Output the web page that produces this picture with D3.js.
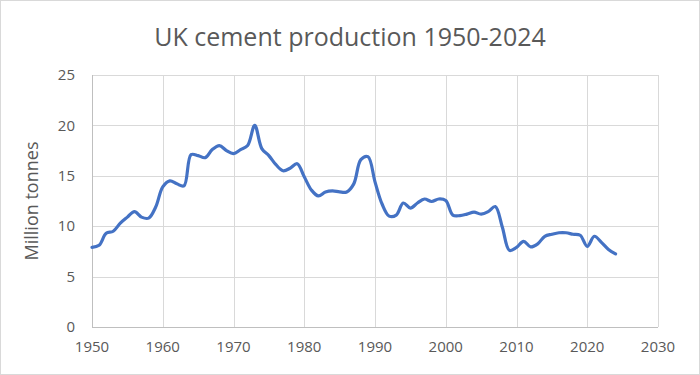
<!DOCTYPE html>
<html>
<head>
<meta charset="utf-8">
<script src="https://cdn.jsdelivr.net/npm/d3@7"></script>
<style>
  html, body { margin: 0; padding: 0; background: #fff; }
  svg { display: block; }
  text { font-family: "Open Sans", "Noto Sans", sans-serif; fill: #595959; }
</style>
</head>
<body>
<svg id="chart" width="700" height="375"></svg>
<script>
const title = "UK cement production 1950-2024";
const yAxisTitle = "Million tonnes";
const years = d3.range(1950, 2025);
const production = [
  7.9, 8.1, 9.3, 9.5, 10.3, 10.9, 11.45, 10.9, 10.8, 11.9,
  13.9, 14.5, 14.2, 14.0, 17.1, 17.0, 16.8, 17.6, 18.0, 17.5,
  17.2, 17.6, 18.0, 20.0, 17.7, 17.0, 16.1, 15.5, 15.75, 16.2,
  14.9, 13.6, 13.0, 13.4, 13.5, 13.4, 13.4, 14.2, 16.6, 16.9,
  14.4, 12.2, 11.0, 11.1, 12.3, 11.8, 12.3, 12.7, 12.45, 12.7,
  12.55, 11.1, 11.05, 11.2, 11.4, 11.2, 11.45, 11.95, 9.9, 7.6,
  7.9, 8.5, 7.95, 8.25, 9.0, 9.2, 9.35, 9.35, 9.2, 9.1,
  8.0, 9.0, 8.4, 7.7, 7.25
];
const xTicks = [1950, 1960, 1970, 1980, 1990, 2000, 2010, 2020, 2030];
const yTicks = [0, 5, 10, 15, 20, 25];

const svg = d3.select("#chart");
const W = 700, H = 375;
const m = { left: 92, right: 42, top: 75, bottom: 48 };

svg.append("rect").attr("x", 0.5).attr("y", 0.5).attr("width", W - 1).attr("height", H - 1)
  .attr("fill", "#fff").attr("stroke", "#d9d9d9");

const x = d3.scaleLinear().domain([1950, 2030]).range([m.left, W - m.right]);
const y = d3.scaleLinear().domain([0, 25]).range([H - m.bottom, m.top]);

// gridlines
svg.append("g").selectAll("line.h").data(yTicks).join("line")
  .attr("x1", x(1950)).attr("x2", x(2030))
  .attr("y1", d => Math.round(y(d)) + 0.5).attr("y2", d => Math.round(y(d)) + 0.5)
  .attr("stroke", "#d9d9d9").attr("stroke-width", 1);
svg.append("g").selectAll("line.v").data(xTicks).join("line")
  .attr("x1", d => Math.round(x(d)) + 0.5).attr("x2", d => Math.round(x(d)) + 0.5)
  .attr("y1", y(0)).attr("y2", y(25))
  .attr("stroke", "#d9d9d9").attr("stroke-width", 1);

// axes lines
svg.append("line").attr("x1", Math.round(x(1950)) + 0.5).attr("x2", Math.round(x(1950)) + 0.5)
  .attr("y1", y(0)).attr("y2", y(25)).attr("stroke", "#bfbfbf");
svg.append("line").attr("x1", x(1950)).attr("x2", x(2030))
  .attr("y1", Math.round(y(0)) + 0.5).attr("y2", Math.round(y(0)) + 0.5).attr("stroke", "#bfbfbf");

// tick labels
svg.append("g").selectAll("text").data(yTicks).join("text")
  .attr("x", 75).attr("y", d => y(d)).attr("dy", "0.35em")
  .attr("text-anchor", "end").attr("font-size", 15).text(d => d);
svg.append("g").selectAll("text").data(xTicks).join("text")
  .attr("x", d => x(d)).attr("y", 352)
  .attr("text-anchor", "middle").attr("font-size", 15).text(d => d);

// titles
svg.append("text").attr("x", 350).attr("y", 46).attr("text-anchor", "middle")
  .attr("font-size", 25).text(title);
svg.append("text").attr("transform", "translate(38,201) rotate(-90)")
  .attr("text-anchor", "middle").attr("font-size", 18).text(yAxisTitle);

// line
const data = years.map((yr, i) => ({ yr, v: production[i] }));
const line = d3.line().x(d => x(d.yr)).y(d => y(d.v)).curve(d3.curveCatmullRom.alpha(0.5));
svg.append("path").datum(data).attr("d", line)
  .attr("fill", "none").attr("stroke", "#4472c4").attr("stroke-width", 3.2)
  .attr("stroke-linejoin", "round").attr("stroke-linecap", "round");
</script>
</body>
</html>
